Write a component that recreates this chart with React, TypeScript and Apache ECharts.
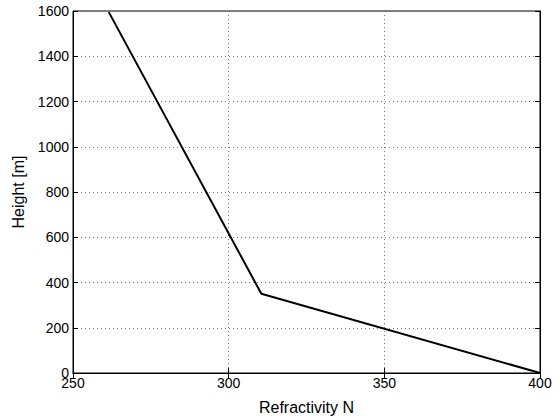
import React, { useEffect, useRef } from "react";
import * as echarts from "echarts";

const refractivity = [400, 310.5, 261.5];
const heights = [0, 350, 1595];
const xTicks = [250, 300, 350, 400];
const yTicks = [0, 200, 400, 600, 800, 1000, 1200, 1400, 1600];

export default function App() {
  const ref = useRef<HTMLDivElement>(null);
  useEffect(() => {
    const chart = echarts.init(ref.current!, null, { renderer: "svg" });
    const font = "'Liberation Sans', Arial, sans-serif";
    const baseX = {
      type: "value" as const,
      min: xTicks[0],
      max: xTicks[xTicks.length - 1],
      interval: 50,
    };
    const baseY = {
      type: "value" as const,
      min: yTicks[0],
      max: yTicks[yTicks.length - 1],
      interval: 200,
    };
    const fmt = (v: number) => String(v);
    chart.setOption({
      animation: false,
      backgroundColor: "#fff",
      grid: {
        left: 73,
        right: 20,
        top: 11,
        bottom: 46,
        show: true,
        borderColor: "#000",
        borderWidth: 1,
      },
      xAxis: [
        {
          ...baseX,
          position: "bottom",
          name: "Refractivity N",
          nameLocation: "middle",
          nameGap: 26,
          nameTextStyle: { fontFamily: font, fontSize: 16, color: "#000" },
          axisLine: { show: true, onZero: false, lineStyle: { color: "#000", width: 1 } },
          axisTick: { inside: true, length: 5, lineStyle: { color: "#000" } },
          axisLabel: { fontFamily: font, fontSize: 14, color: "#000", margin: 3, formatter: fmt },
          splitLine: { show: true, lineStyle: { color: "#777", type: [1, 3], width: 1 } },
        },
        {
          ...baseX,
          position: "top",
          axisLine: { show: true, lineStyle: { color: "#000" } },
          axisTick: { inside: true, length: 5, lineStyle: { color: "#000" } },
          axisLabel: { show: false },
          splitLine: { show: false },
        },
      ],
      yAxis: [
        {
          ...baseY,
          position: "left",
          name: "Height [m]",
          nameLocation: "middle",
          nameGap: 43,
          nameTextStyle: { fontFamily: font, fontSize: 16, color: "#000" },
          axisLine: { show: true, onZero: false, lineStyle: { color: "#000", width: 1 } },
          axisTick: { inside: true, length: 5, lineStyle: { color: "#000" } },
          axisLabel: { fontFamily: font, fontSize: 14, color: "#000", margin: 4, formatter: fmt },
          splitLine: { show: true, lineStyle: { color: "#777", type: [1, 3], width: 1 } },
        },
        {
          ...baseY,
          position: "right",
          axisLine: { show: true, lineStyle: { color: "#000" } },
          axisTick: { inside: true, length: 5, lineStyle: { color: "#000" } },
          axisLabel: { show: false },
          splitLine: { show: false },
        },
      ],
      series: [
        {
          type: "line",
          xAxisIndex: 0,
          yAxisIndex: 0,
          data: refractivity.map((n, i) => [n, heights[i]]),
          symbol: "none",
          lineStyle: { color: "#000", width: 2 },
        },
      ],
    });
    return () => chart.dispose();
  }, []);
  return <div ref={ref} style={{ width: 560, height: 420, position: "absolute", left: 0, top: 0 }} />;
}
